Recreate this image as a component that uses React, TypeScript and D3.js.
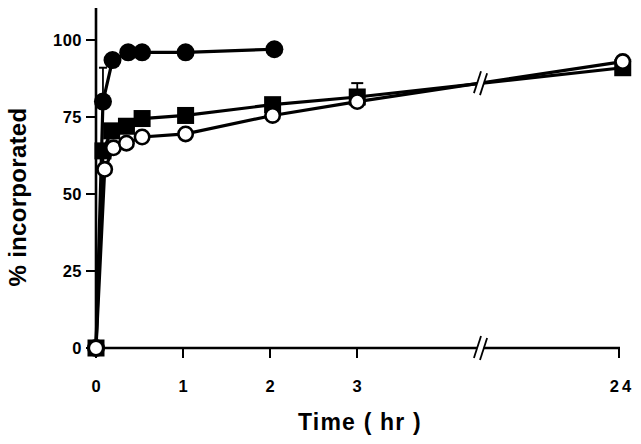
import React from "react";
import * as d3 from "d3";

// Data
const timesFilledCircle = [0, 0.08, 0.19, 0.37, 0.53, 1.03, 2.05];
const valuesFilledCircle = [0, 80, 93.5, 96, 96, 96, 97];

const timesSquare = [0, 0.08, 0.18, 0.35, 0.53, 1.03, 2.03, 3.02, 24.3];
const valuesSquare = [0, 64, 70.5, 72, 74.5, 75.5, 79, 81.5, 91];

const timesOpenCircle = [0, 0.1, 0.2, 0.35, 0.53, 1.03, 2.03, 3.02, 24.3];
const valuesOpenCircle = [0, 58, 65, 66.5, 68.5, 69.5, 75.5, 80, 93];

// error bars: [time, value, upper]
const errorBars = [
  [0.08, 80, 91],
  [3.02, 81.5, 86],
];

const xTicks = [0, 1, 2, 3, 24];
const yTicks = [0, 25, 50, 75, 100];
const breakTime = 12.9; // position of axis break (between 3 and 24)

export default function App() {
  const W = 641, H = 444;
  const x = d3.scaleLinear().domain([0, 3, 24]).range([96, 357, 619]);
  const y = d3.scaleLinear().domain([0, 100]).range([348, 40]);
  const yTop = y(110.4);

  const toPts = (ts: number[], vs: number[]) => ts.map((t, i) => [t, vs[i]] as [number, number]);
  const sFC = toPts(timesFilledCircle, valuesFilledCircle);
  const sSQ = toPts(timesSquare, valuesSquare);
  const sOC = toPts(timesOpenCircle, valuesOpenCircle);

  const line = d3.line<[number, number]>().x(d => x(d[0])).y(d => y(d[1]));

  const bx = x(breakTime);
  const interp = (s: [number, number][]) => {
    const a = s[s.length - 2], b = s[s.length - 1];
    const xa = x(a[0]), xb = x(b[0]);
    const f = (bx - xa) / (xb - xa);
    return y(a[1]) + f * (y(b[1]) - y(a[1]));
  };
  const by = (interp(sSQ) + interp(sOC)) / 2;
  const axisY = y(0);
  const font = "'Liberation Sans', Arial, Helvetica, sans-serif";

  const BreakMark = ({ cx, cy }: { cx: number; cy: number }) => (
    <g transform={`translate(${cx},${cy}) rotate(18)`}>
      <rect x={-3} y={-9} width={6} height={18} fill="white" />
      <line x1={-3.2} y1={-11.5} x2={-3.2} y2={11.5} stroke="black" strokeWidth={1.8} />
      <line x1={3.2} y1={-11.5} x2={3.2} y2={11.5} stroke="black" strokeWidth={1.8} />
    </g>
  );

  return (
    <svg width={W} height={H} style={{ position: "absolute", left: 0, top: 0, background: "white" }}
      fontFamily={font}>
      <rect width={W} height={H} fill="white" />
      {/* axes */}
      <line x1={x(0)} x2={x(0)} y1={axisY + 1} y2={yTop} stroke="black" strokeWidth={2.6} />
      <line x1={x(0)} x2={x(24) + 1} y1={axisY} y2={axisY} stroke="black" strokeWidth={2.6} />
      {yTicks.map(t => (
        <g key={"y" + t}>
          <line x1={x(0) - 10} x2={x(0)} y1={y(t)} y2={y(t)} stroke="black" strokeWidth={2} />
          <text x={x(0) - 14} y={y(t)} dy="0.36em" textAnchor="end" fontSize={16.5} fontWeight="bold" letterSpacing={0.5}>{t}</text>
        </g>
      ))}
      {xTicks.map(t => (
        <g key={"x" + t}>
          <line x1={x(t)} x2={x(t)} y1={axisY} y2={axisY + 10} stroke="black" strokeWidth={2} />
          <text x={x(t) + (t >= 10 ? 3 : 0)} y={axisY + 38} dy="0.36em" textAnchor="middle" fontSize={16.5} fontWeight="bold" letterSpacing={t >= 10 ? 3 : 0}>{t}</text>
        </g>
      ))}
      <BreakMark cx={bx} cy={axisY} />
      <text x={360} y={422} dy="0.36em" textAnchor="middle" fontSize={23} fontWeight="bold" letterSpacing={1.2}>Time ( hr )</text>
      <text transform={`translate(17,197) rotate(-90)`} dy="0.36em" textAnchor="middle" fontSize={24} fontWeight="bold" letterSpacing={0.3}>% incorporated</text>

      {/* error bars */}
      {errorBars.map((e, i) => (
        <g key={"e" + i}>
          <line x1={x(e[0])} x2={x(e[0])} y1={y(e[1])} y2={y(e[2])} stroke="black" strokeWidth={1.8} />
          <line x1={x(e[0]) - (i === 0 ? 4 : 6)} x2={x(e[0]) + (i === 0 ? 4 : 6)} y1={y(e[2])} y2={y(e[2])} stroke="black" strokeWidth={2} />
        </g>
      ))}
      {/* lines */}
      <path d={line(sFC) || ""} fill="none" stroke="black" strokeWidth={3.2} />
      <path d={line(sSQ) || ""} fill="none" stroke="black" strokeWidth={3.2} />
      <path d={line(sOC) || ""} fill="none" stroke="black" strokeWidth={3.2} />
      <BreakMark cx={bx} cy={by} />

      {/* markers */}
      {sFC.map((d, i) => (
        <circle key={"fc" + i} cx={x(d[0])} cy={y(d[1])} r={9} fill="black" />
      ))}
      {sSQ.map((d, i) => (
        <rect key={"sq" + i} x={x(d[0]) - 8.5} y={y(d[1]) - 8.5} width={17} height={17} fill="black" />
      ))}
      {sOC.map((d, i) => (
        <circle key={"oc" + i} cx={x(d[0])} cy={y(d[1])} r={7.2} fill="white" stroke="black" strokeWidth={2.6} />
      ))}
    </svg>
  );
}
